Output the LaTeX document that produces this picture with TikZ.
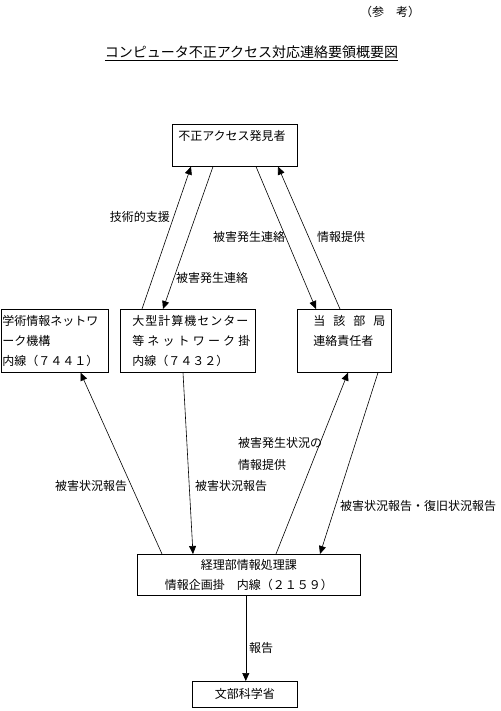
\documentclass[tikz,border=0pt]{standalone}
\usepackage{fontspec}
\setmainfont{Noto Sans CJK JP}
\usepackage{tikz}
\usetikzlibrary{arrows.meta,positioning}

% spread the characters of #2 evenly over the width #1
\def\spreadx#1{#1\futurelet\spnext\spready}
\def\spready{\ifx\spnext\relax\else\hfill\expandafter\spreadx\fi}
\newcommand{\spread}[2]{\makebox[#1][s]{\spreadx#2\relax}}

\begin{document}
\begin{tikzpicture}[
    x=1pt, y=-1pt,
    box/.style={rectangle, draw, line width=0.6pt, inner ysep=0pt, anchor=north west, align=left, font=\fontsize{12}{20}\selectfont},
    lbl/.style={inner sep=0pt, anchor=west, align=left, font=\fontsize{12}{22}\selectfont},
    arrow/.style={-{Triangle[length=8pt,width=7pt]}, line width=0.6pt}
]
    \path[use as bounding box, fill=white] (0,0) rectangle (500,711);

    % Heading
    \node[inner sep=0pt, font=\fontsize{12}{14}\selectfont] (note) at (390,12) {（参　考）};
    \node[inner sep=0pt, font=\fontsize{14}{16}\selectfont] (title) at (251.5,53) {\underline{コンピュータ不正アクセス対応連絡要領概要図}};

    % Top box
    \node[box, text width=113pt, inner xsep=6pt, minimum height=42pt] (finder) at (172,124) {不正アクセス発見者\\\mbox{}};

    % Middle boxes
    \node[box, text width=104.5pt, inner xsep=1.5pt, minimum height=63pt] (nii) at (0.5,309) {学術情報ネットワ\\ーク機構\\内線（７４４１）};
    \node[box, text width=111pt, inner xsep=12pt, minimum height=63pt] (hpc) at (120,309) {\spread{116pt}{大型計算機センター}\\\spread{118pt}{等ネットワーク掛}\\内線（７４３２）};
    \node[box, text width=62pt, inner xsep=16pt, minimum height=63pt] (dept) at (297,309) {\spread{72pt}{当該部局}\\連絡責任者\\\mbox{}};

    % Bottom boxes
    \node[box, text width=219pt, inner xsep=2pt, minimum height=41pt, align=center] (acct) at (137,554) {経理部情報処理課\\情報企画掛　内線（２１５９）};
    \node[box, inner xsep=0pt, minimum width=105pt, minimum height=26pt, align=center] (mext) at (192,681) {文部科学省};

    % Arrows
    \draw[arrow] ([xshift=22pt]hpc.north west) -- ([xshift=19pt]finder.south west);
    \draw[arrow] ([xshift=41pt]finder.south west) -- ([xshift=43pt]hpc.north west);
    \draw[arrow] ([xshift=84pt]finder.south west) -- ([xshift=19pt]dept.north west);
    \draw[arrow] ([xshift=43pt]dept.north west) -- ([xshift=106pt]finder.south west);
    \draw[arrow] ([xshift=25pt]acct.north west) -- ([xshift=80pt]nii.south west);
    \draw[arrow] ([xshift=63pt]hpc.south west) -- ([xshift=56pt]acct.north west);
    \draw[arrow] ([xshift=139pt]acct.north west) -- ([xshift=51pt]dept.south west);
    \draw[arrow] ([xshift=81pt]dept.south west) -- ([xshift=183pt]acct.north west);
    \draw[arrow] ([xshift=-3pt]acct.south) -- ([xshift=1pt]mext.north);

    % Labels
    \node[lbl, anchor=east] (support) at (170,217) {技術的支援};
    \node[lbl] (notice1) at (176,278) {被害発生連絡};
    \node[lbl] (notice2) at (213,237) {被害発生連絡};
    \node[lbl] (info1) at (317,237) {情報提供};
    \node[lbl] (info2) at (238,454) {被害発生状況の\\情報提供};
    \node[lbl] (report1) at (55,486) {被害状況報告};
    \node[lbl] (report2) at (195,486) {被害状況報告};
    \node[lbl] (report3) at (340,506) {被害状況報告・復旧状況報告};
    \node[lbl] (report4) at (249,648) {報告};

\end{tikzpicture}
\end{document}
